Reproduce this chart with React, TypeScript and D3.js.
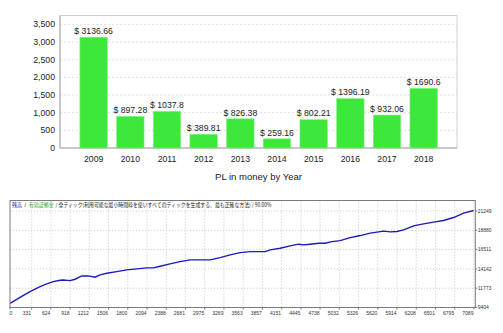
import React from "react";
import * as d3 from "d3";

const years = ["2009", "2010", "2011", "2012", "2013", "2014", "2015", "2016", "2017", "2018"];
const plValues = [3136.66, 897.28, 1037.8, 389.81, 826.38, 259.16, 802.21, 1396.19, 932.06, 1690.6];
const plTicks = [0, 500, 1000, 1500, 2000, 2500, 3000, 3500];

const tradeNo = [0, 153, 306, 459, 561, 662, 765, 815, 917, 994, 1096, 1197, 1300, 1376, 1479, 1631, 1784, 1937, 2090, 2191, 2294, 2446, 2599, 2752, 2905, 3058, 3211, 3364, 3517, 3670, 3899, 3975, 4128, 4281, 4408, 4485, 4587, 4714, 4816, 4919, 5046, 5122, 5199, 5352, 5504, 5607, 5708, 5810, 5913, 6014, 6167, 6319, 6472, 6625, 6778, 6931, 7084];
const balance = [9921, 10659, 11347, 11962, 12294, 12577, 12750, 12787, 12700, 12873, 13279, 13279, 13119, 13402, 13611, 13808, 14017, 14140, 14263, 14263, 14472, 14755, 15038, 15247, 15247, 15247, 15530, 15862, 16145, 16268, 16268, 16476, 16685, 16968, 17177, 17090, 17177, 17300, 17300, 17497, 17620, 17793, 17990, 18236, 18531, 18654, 18777, 18690, 18728, 18937, 19429, 19675, 19884, 20081, 20450, 20991, 21311];
const eqXTicks = [0, 331, 624, 918, 1212, 1506, 1800, 2094, 2388, 2681, 2975, 3269, 3563, 3857, 4151, 4445, 4738, 5032, 5326, 5620, 5914, 6208, 6501, 6795, 7089];
const eqYTicks = [9404, 11773, 14142, 16511, 18880, 21249];

const legendBalance = "残高";
const legendEquity = "有効証拠金";
const legendRest = "/ 全ティック(利用可能な最小時間枠を使いすべてのティックを生成する、最も正確な方法) / 90.00%";

export default function App() {
  // Top chart
  const L = 60, R = 457, T = 15.5, B = 148;
  const x = d3.scaleBand<string>().domain(years).range([75.3, 442]).paddingInner(0.25).paddingOuter(0.125);
  const y = d3.scaleLinear().domain([0, 3750]).range([B, T]);
  const fmt = d3.format(",");

  // Bottom chart
  const L2 = 10, R2 = 475.3, T2 = 200.5, B2 = 307.5;
  const x2 = d3.scaleLinear().domain([0, 7110]).range([L2, R2]);
  const y2 = d3.scaleLinear().domain([9404, 22540]).range([B2, T2]);
  const line = d3.line<number>().x((_, i) => x2(tradeNo[i])).y((d) => y2(d));

  const font = "'Liberation Sans', Arial, sans-serif";
  const cjk = "'Noto Sans CJK JP', sans-serif";

  return (
    <svg width={503} height={333} style={{ position: "absolute", left: 0, top: 0, background: "#fff" }}>
      {/* top chart */}
      <rect x={L} y={T} width={R - L} height={B - T} fill="#fff" stroke="#cfcfcf" strokeWidth={1} />
      {plTicks.slice(1).map((t) => (
        <line key={t} x1={L} x2={R} y1={y(t)} y2={y(t)} stroke="#d8d8d8" strokeDasharray="2,2" strokeWidth={0.8} />
      ))}
      <line x1={L} x2={L} y1={T} y2={B} stroke="#a8a8a8" />
      <line x1={L} x2={R} y1={B} y2={B} stroke="#a8a8a8" />
      {plTicks.map((t) => (
        <text key={t} x={55} y={y(t)} dy="0.35em" textAnchor="end" fontFamily={font} fontSize={8.7} fill="#222">
          {fmt(t)}
        </text>
      ))}
      {years.map((yr, i) => (
        <g key={yr}>
          <rect x={x(yr)} y={y(plValues[i])} width={x.bandwidth()} height={B - y(plValues[i])} fill="#3de83b" stroke="#8af08a" strokeWidth={0.6} />
          <text x={(x(yr) as number) + x.bandwidth() / 2} y={y(plValues[i]) - 3.3} textAnchor="middle" fontFamily={font} fontSize={8.7} fill="#222">
            {"$ " + plValues[i]}
          </text>
          <text x={(x(yr) as number) + x.bandwidth() / 2} y={161.5} textAnchor="middle" fontFamily={font} fontSize={8.7} fill="#222">
            {yr}
          </text>
        </g>
      ))}
      <text x={258.5} y={179.5} textAnchor="middle" fontFamily={font} fontSize={9.5} fill="#222">
        PL in money by Year
      </text>

      {/* bottom chart */}
      <rect x={L2} y={T2} width={R2 - L2} height={B2 - T2} fill="#fff" />
      {eqXTicks.slice(1).map((t) => (
        <line key={t} x1={x2(t)} x2={x2(t)} y1={T2} y2={B2} stroke="#c0c0c0" strokeDasharray="1.2,1.8" strokeWidth={0.75} />
      ))}
      {eqYTicks.slice(1).map((t) => (
        <line key={t} x1={L2} x2={R2} y1={y2(t)} y2={y2(t)} stroke="#c0c0c0" strokeDasharray="1.2,1.8" strokeWidth={0.75} />
      ))}
      <path d={line(balance) || ""} fill="none" stroke="#1a1ac0" strokeWidth={1.4} />
      <rect x={L2} y={T2} width={R2 - L2} height={B2 - T2} fill="none" stroke="#7a7a7a" strokeWidth={1} />
      {eqXTicks.map((t, i) => (
        <g key={t}>
          <line x1={x2(t)} x2={x2(t)} y1={B2} y2={B2 + 2} stroke="#7a7a7a" />
          <text x={i === 0 ? L2 - 0.5 : x2(t) - 0.5} y={315.3} textAnchor={i === 0 ? "start" : "end"} fontFamily={font} fontSize={5} fill="#333">
            {t}
          </text>
        </g>
      ))}
      {eqYTicks.map((t) => (
        <g key={t}>
          <line x1={R2} x2={R2 + 2} y1={y2(t)} y2={y2(t)} stroke="#7a7a7a" />
          <text x={477.7} y={y2(t)} dy="0.35em" fontFamily={font} fontSize={5} fill="#333">
            {t}
          </text>
        </g>
      ))}
      <text x={12} y={207} fontFamily={cjk} fontSize={5.5} fill="#1a1ac0" textLength={10} lengthAdjust="spacingAndGlyphs">
        {legendBalance}
      </text>
      <text x={24.5} y={207} fontFamily={font} fontSize={5.5} fill="#222">
        /
      </text>
      <text x={28.8} y={207} fontFamily={cjk} fontSize={5.5} fill="#1faa1f" textLength={25} lengthAdjust="spacingAndGlyphs">
        {legendEquity}
      </text>
      <text x={55.5} y={207} fontFamily={cjk} fontSize={5.5} fill="#222" textLength={216} lengthAdjust="spacingAndGlyphs">
        {legendRest}
      </text>
    </svg>
  );
}
